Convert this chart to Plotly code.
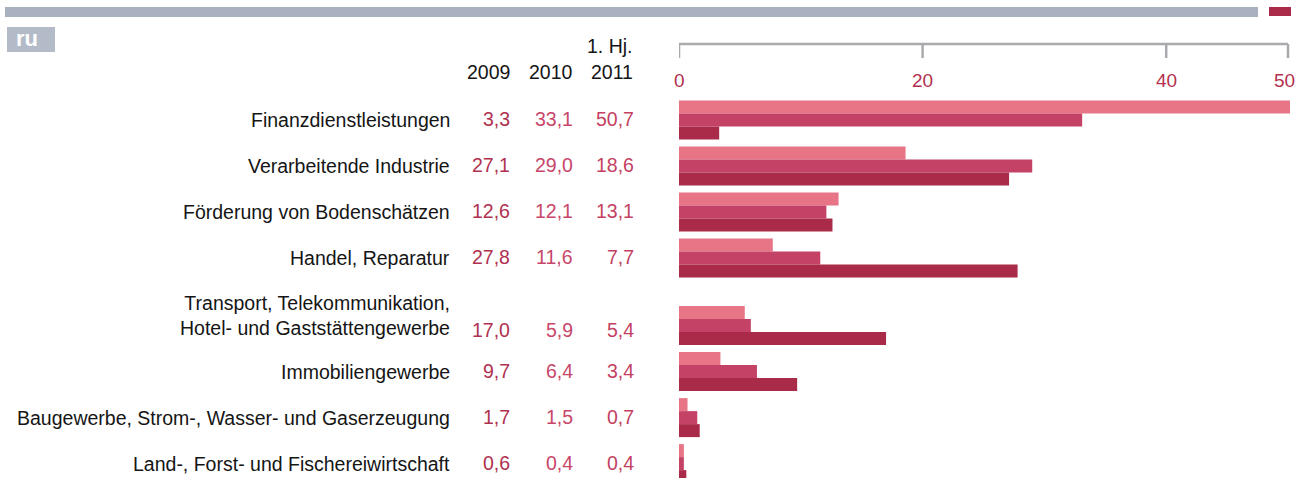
import plotly.graph_objects as go

categories = [
    "Finanzdienstleistungen",
    "Verarbeitende Industrie",
    "Förderung von Bodenschätzen",
    "Handel, Reparatur",
    "Transport, Telekommunikation,<br>Hotel- und Gaststättengewerbe",
    "Immobiliengewerbe",
    "Baugewerbe, Strom-, Wasser- und Gaserzeugung",
    "Land-, Forst- und Fischereiwirtschaft",
]
v2009 = [3.3, 27.1, 12.6, 27.8, 17.0, 9.7, 1.7, 0.6]
v2010 = [33.1, 29.0, 12.1, 11.6, 5.9, 6.4, 1.5, 0.4]
v2011 = [50.7, 18.6, 13.1, 7.7, 5.4, 3.4, 0.7, 0.4]
series_names = ["2009", "2010", "1. Hj.<br>2011"]
tick_vals = [0, 20, 40, 50]
tick_text = ["0", "20", "40", "50"]

W, H = 1296, 478
FONT = "Liberation Sans, Arial, sans-serif"
FS = 19.5
C_LIGHT = "#E87585"
C_MID = "#C44266"
C_DARK = "#AA2A4A"
C_TICK = "#B3304F"
GRAY = "#A9B0C0"
TXT = "#151515"
PAD = 2  # annotation box padding compensation

# row positions (extra gap before the two-line label row)
ypos = [i + (0.47 if i >= 4 else 0) for i in range(len(categories))]
row0_px, unit_px = 120, 46.0
y_top = -row0_px / unit_px
y_bot = (H - row0_px) / unit_px

x0_px, x1_px = 679, 1290
xmax = 50 * (x1_px - x0_px) / (1288 - x0_px)

fig = go.Figure()
for vals, col, name in [(v2011, C_LIGHT, "2011"), (v2010, C_MID, "2010"), (v2009, C_DARK, "2009")]:
    fig.add_trace(go.Bar(y=ypos, x=vals, orientation="h", marker=dict(color=col, line=dict(width=0)),
                         name=name, hoverinfo="x"))

ann = []
def px(x):
    return x / W
def py(y):
    return 1 - y / H

# header
hdr_x = [510, 573, 633]
for name, xr in zip(series_names, hdr_x):
    parts = name.split("<br>")
    ann.append(dict(x=px(xr + PAD), y=py(72), xref="paper", yref="paper", text=parts[-1], showarrow=False,
                    xanchor="right", yanchor="middle", font=dict(size=FS, color=TXT, family=FONT)))
    if len(parts) > 1:
        ann.append(dict(x=px(xr + PAD), y=py(46), xref="paper", yref="paper", text=parts[0], showarrow=False,
                        xanchor="right", yanchor="middle", font=dict(size=FS, color=TXT, family=FONT)))

val_cols = [(v2009, 510, "#B0304F"), (v2010, 573, "#C8466A"), (v2011, 634, "#C43F62")]
for i, cat in enumerate(categories):
    two = "<br>" in cat
    ann.append(dict(x=px(450 + PAD), y=ypos[i], xref="paper", yref="y", text=cat, showarrow=False,
                    xanchor="right", yanchor="middle", align="right", yshift=10 if two else 0,
                    font=dict(size=FS, color=TXT, family=FONT)))
    for vals, xr, col in val_cols:
        ann.append(dict(x=px(xr + PAD), y=ypos[i], xref="paper", yref="y",
                        text=f"{vals[i]:.1f}".replace(".", ","), showarrow=False,
                        xanchor="right", yanchor="middle", yshift=-4 if two else 1,
                        font=dict(size=FS, color=col, family=FONT)))

shapes = []
# top gray band and red marker
shapes.append(dict(type="rect", xref="paper", yref="paper", x0=px(5), x1=px(1258), y0=py(17), y1=py(7),
                   fillcolor=GRAY, line=dict(width=0)))
shapes.append(dict(type="rect", xref="paper", yref="paper", x0=px(1269), x1=px(1291), y0=py(16), y1=py(7),
                   fillcolor=C_DARK, line=dict(width=0)))
# "ru" box
shapes.append(dict(type="rect", xref="paper", yref="paper", x0=px(7), x1=px(55), y0=py(52), y1=py(27),
                   fillcolor="#B3BAC8", line=dict(width=0)))
ann.append(dict(x=px(14), y=py(38), xref="paper", yref="paper", text="<b>ru</b>", showarrow=False,
                xanchor="left", yanchor="middle", font=dict(size=22, color="white", family=FONT)))

# axis line with ticks
shapes.append(dict(type="line", xref="x", yref="paper", x0=0, x1=50, y0=py(44), y1=py(44),
                   line=dict(color="#AAAAAE", width=2.5)))
for tv, tt in zip(tick_vals, tick_text):
    shapes.append(dict(type="line", xref="x", yref="paper", x0=tv, x1=tv, y0=py(44), y1=py(58),
                       line=dict(color="#AAAAAE", width=2.5)))
    ann.append(dict(x=tv, y=py(80), xref="x", yref="paper", text=tt, showarrow=False,
                    xanchor="center", yanchor="middle", xshift=-4 if tv == max(tick_vals) else 0,
                    font=dict(size=19, color=C_TICK, family=FONT)))

fig.update_layout(
    width=W, height=H, margin=dict(l=0, r=0, t=0, b=0),
    paper_bgcolor="white", plot_bgcolor="white",
    barmode="group", bargap=0.152, bargroupgap=0,
    showlegend=False,
    xaxis=dict(domain=[x0_px / W, x1_px / W], range=[0, xmax], showgrid=False, zeroline=False,
               showticklabels=False, ticks="", showline=False, fixedrange=True),
    yaxis=dict(domain=[0, 1], range=[y_bot, y_top], showgrid=False, zeroline=False,
               showticklabels=False, ticks="", showline=False, fixedrange=True),
    annotations=ann, shapes=shapes,
)
fig.write_html("out.html", config={"displayModeBar": False},
               post_script="document.body.style.margin='0';document.body.style.overflow='hidden';")
